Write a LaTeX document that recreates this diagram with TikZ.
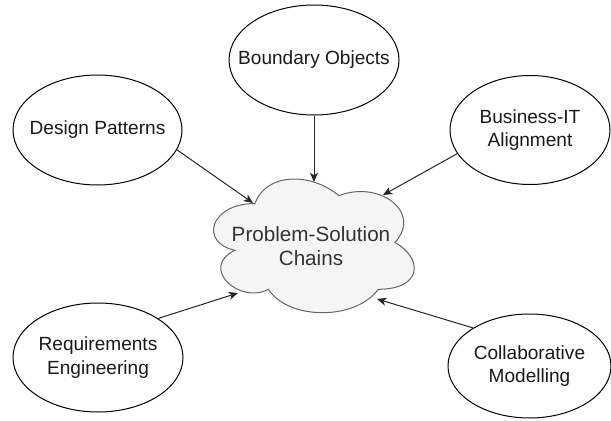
\documentclass[tikz,border=0pt]{standalone}
\usepackage{fontspec}
\setmainfont{Liberation Sans}
\usetikzlibrary{shapes.geometric,arrows.meta}
\definecolor{cloudfill}{HTML}{F5F5F5}
\definecolor{cloudline}{HTML}{666666}
\definecolor{cloudtext}{HTML}{333333}
\definecolor{inktext}{HTML}{1A1A1A}
\begin{document}
\begin{tikzpicture}[x=0.75pt,y=-0.75pt,
  topic/.style={ellipse, draw=black, line width=0.75pt, fill=white, inner sep=0pt},
  topictext/.style={text=inktext, font=\fontsize{14.3}{17.5}\selectfont, align=center},
  hubtext/.style={text=cloudtext, font=\fontsize{15.5}{18}\selectfont, align=center},
  link/.style={draw=black!85, line width=0.75pt, -{Stealth[length=7pt,width=6pt,inset=2pt]}}
]
\useasboundingbox (0,0) rectangle (611,421);

% surrounding topics
\node[topic, minimum width=170*0.75pt, minimum height=110*0.75pt,
      label={[topictext]center:Boundary Objects}] (bo) at (314,60) {};
\node[topic, minimum width=169*0.75pt, minimum height=110*0.75pt,
      label={[topictext]center:Design Patterns}] (dp) at (97.5,130) {};
\node[topic, minimum width=160*0.75pt, minimum height=109*0.75pt,
      label={[topictext]center:Business-IT\\Alignment}] (bit) at (530,130) {};
\node[topic, minimum width=170*0.75pt, minimum height=109*0.75pt,
      label={[topictext]center:Requirements\\Engineering}] (re) at (98,357.5) {};
\node[topic, minimum width=163*0.75pt, minimum height=104*0.75pt,
      label={[topictext]center:Collaborative\\Modelling}] (cm) at (529.5,366) {};

% central cloud
\begin{scope}[shift={(199,164.5)}, xscale=224, yscale=156]
  \path[draw=cloudline, fill=cloudfill, line width=0.75pt]
    (0.25,0.25)
    .. controls (0.05,0.25) and (0,0.5) .. (0.16,0.55)
    .. controls (0,0.66) and (0.18,0.9) .. (0.31,0.8)
    .. controls (0.4,1) and (0.7,1) .. (0.8,0.8)
    .. controls (1,0.8) and (1,0.6) .. (0.875,0.5)
    .. controls (1,0.3) and (0.8,0.1) .. (0.625,0.2)
    .. controls (0.5,0.05) and (0.3,0.05) .. (0.25,0.25)
    -- cycle;
\end{scope}
\node[hubtext] (psc) at (311,246) {Problem-Solution\\Chains};

% where the links meet the cloud
\coordinate (inBO)  at (314,182);
\coordinate (inDP)  at (253,203);
\coordinate (inBIT) at (383,195);
\coordinate (inRE)  at (238,293);
\coordinate (inCM)  at (377,299);

\draw[link] (bo.south) -- (inBO);
\draw[link] (dp.-14)   -- (inDP);
\draw[link] (bit.198)  -- (inBIT);
\draw[link] (re.33)    -- (inRE);
\draw[link] (cm.146)   -- (inCM);
\end{tikzpicture}
\end{document}
